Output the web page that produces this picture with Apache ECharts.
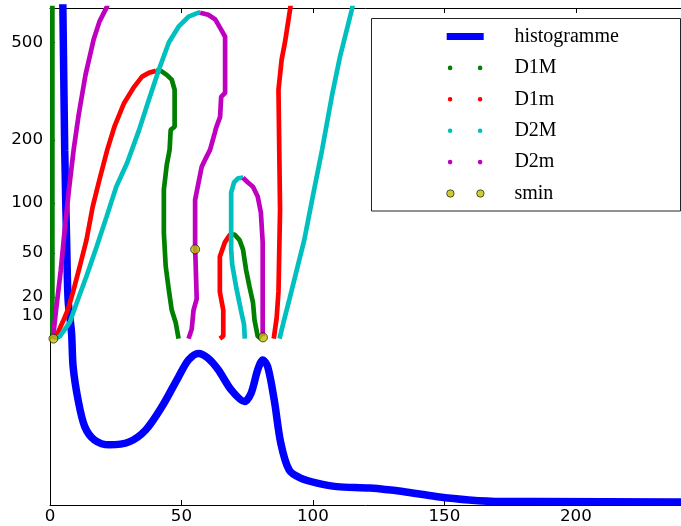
<!DOCTYPE html>
<html><head><meta charset="utf-8">
<script src="https://cdn.jsdelivr.net/npm/echarts@6/dist/echarts.min.js"></script>
<style>html,body{margin:0;padding:0;background:#fff}#c{width:681px;height:526px}</style>
</head><body><div id="c"></div>
<script>
// ---- data (x, value) ----
const xTicks = [0, 50, 100, 150, 200];
const yTicks = [10, 20, 50, 100, 200, 500];
const histogram = [[4.4,1150],[4.9,1000],[5.6,714],[6.4,513],[6.9,412],[8.2,346],[8.8,278],[10.7,211],[13.2,158],[16.9,131],[22.6,121],[30.1,127],[36.4,151],[42.6,198],[48.9,258],[52.7,292],[56.5,305],[60.2,295],[64.0,272],[69.0,231],[74.0,208],[76.5,225],[79.0,272],[80.9,292],[82.8,278],[85.3,211],[87.8,124],[91.0,70],[95.3,54],[101.6,44],[109.1,37],[121.7,34],[134.2,27],[146.8,17],[159.3,10],[171.9,7],[184.4,7],[237,6],[255,6]];
const D1M_1 = [[0.9,760],[0.9,3],[1.2,0]];
const D1M_2 = [[40.3,387],[42.2,387],[44.4,373],[46.3,357],[47.4,325],[47.4,228],[45.9,221],[45.5,181],[44.4,154],[43.3,117],[43.3,68],[44.0,40],[45.2,24],[46.3,13],[47.8,7],[48.9,0]];
const D1M_3 = [[69.3,66],[70.3,66],[72.1,61],[73.4,53],[74.6,37],[75.9,26],[77.2,17],[77.8,8],[79.0,1],[80.3,0]];
const D1m_1 = [[1.1,0],[3.0,2.5],[4.9,7.4],[6.8,13.2],[8.7,22.6],[11.3,39.5],[13.9,61.4],[16.2,95],[18.8,131],[21.8,181],[24.5,228],[28.2,287],[32.0,334],[35.0,367],[37.6,380],[40.3,387]];
const D1m_2 = [[64.6,0],[65.9,1],[65.9,13],[64.6,23],[64.6,47],[66.5,59],[68.4,66],[69.3,66]];
const D1m_3 = [[85.1,0],[86.2,9],[86.9,23],[87.5,92],[86.9,325],[88.1,428],[89.4,503],[91.3,667],[91.8,727]];
const D2M_1 = [[1.9,0],[3.8,1],[7.5,7],[10.2,17],[13.9,33],[17.7,55],[21.5,84],[25.2,121],[29.4,158],[33.9,221],[37.6,296],[41.4,391],[45.2,500],[48.9,575],[52.7,628],[56.5,650],[57.1,650]];
const D2M_2 = [[74.1,0],[73.8,6],[72.6,13],[70.8,26],[69.3,41],[68.9,53],[68.9,113],[70.0,127],[71.5,133],[73.0,134],[73.4,134]];
const D2M_3 = [[87.3,0],[88.8,7],[91.1,19],[94.1,39],[96.7,61],[99.7,104],[103.5,181],[107.3,310],[110.3,440],[114.8,667],[115.5,727]];
const D2m_1 = [[1.1,0],[2.3,13],[4.1,37],[5.6,71],[7.2,117],[9.0,181],[10.9,256],[13.5,373],[16.6,513],[18.8,601],[21.5,679],[22.6,727]];
const D2m_2 = [[57.1,650],[60.2,638],[62.9,612],[65.1,560],[66.6,526],[66.6,316],[65.1,304],[64.7,251],[63.2,226],[62.7,215],[60.9,181],[59.0,163],[57.7,151],[56.5,127],[55.2,104],[55.2,55],[55.8,19],[54.6,13],[53.9,4],[52.7,0]];
const D2m_3 = [[73.4,134],[75.3,127],[77.2,121],[79.0,108],[80.2,89],[80.9,59],[80.9,1]];
const smin = [[1.3,0],[55.2,53],[81.0,0.5]];

// ---- scale: y axis is ln(v+50) ----
const T = v => Math.log(v + 50);
const yBottom = -37, yTop = 677;

const C = {hist:'#0000ff', D1M:'#008000', D1m:'#ff0000', D2M:'#00bfbf', D2m:'#bf00bf', smin:'#bfbf00'};

function branch(name, color, data, z) {
  return {type:'line', name, data: data.map(p => [p[0], T(p[1])]), symbol:'none', showSymbol:false,
    lineStyle:{color, width:4.7}, itemStyle:{color}, z, animation:false, emphasis:{disabled:true}, silent:true};
}
function circ(cx, cy, r) {
  return `M${cx-r},${cy} A${r},${r} 0 1,0 ${cx+r},${cy} A${r},${r} 0 1,0 ${cx-r},${cy} Z `;
}
const box = 'M0,0 M63,8 ';
const iconRect = 'path://' + box + 'M0.3,0.6 L37.3,0.6 L37.3,7.4 L0.3,7.4 Z';
const iconDots = 'path://' + box + circ(3.7,4,2.3) + circ(33.7,4,2.3);
const iconBig = 'path://' + box + circ(4,4,3.7) + circ(34,4,3.7);

const series = [
  {type:'line', name:'histogramme', yAxisIndex:1, data: histogram, symbol:'none', showSymbol:false, smooth:0.3,
   lineStyle:{color:C.hist, width:7.5}, itemStyle:{color:C.hist}, z:2, animation:false, silent:true},
  branch('D1M', C.D1M, D1M_1, 3), branch('D1M', C.D1M, D1M_2, 3), branch('D1M', C.D1M, D1M_3, 3),
  branch('D1m', C.D1m, D1m_1, 3), branch('D1m', C.D1m, D1m_2, 3), branch('D1m', C.D1m, D1m_3, 3),
  branch('D2M', C.D2M, D2M_1, 3), branch('D2M', C.D2M, D2M_2, 3), branch('D2M', C.D2M, D2M_3, 3),
  branch('D2m', C.D2m, D2m_1, 3), branch('D2m', C.D2m, D2m_2, 3), branch('D2m', C.D2m, D2m_3, 3),
  {type:'scatter', name:'smin', data: smin.map(p => [p[0], T(p[1])]), symbol:'circle', symbolSize:9,
   itemStyle:{color:C.smin, borderColor:'#000', borderWidth:0.8}, z:4, animation:false, silent:true}
];

const axisFont = {fontFamily:'DejaVu Sans', fontSize:16.7, color:'#000'};
const chart = echarts.init(document.getElementById('c'), null, {renderer:'canvas'});
chart.setOption({
  animation:false,
  backgroundColor:'#fff',
  grid:{left:50, top:8, width:638.4, height:497, containLabel:false},
  xAxis:[
    {type:'value', min:0, max:240, interval:50, position:'bottom',
     axisLine:{onZero:false, lineStyle:{color:'#000', width:1}},
     axisTick:{inside:true, length:5, lineStyle:{color:'#000'}},
     axisLabel:Object.assign({margin:3, showMaxLabel:false}, axisFont),
     splitLine:{show:false}},
    {type:'value', min:0, max:240, interval:50, position:'top',
     axisLine:{onZero:false, lineStyle:{color:'#000', width:1}},
     axisTick:{inside:true, length:5, lineStyle:{color:'#000'}},
     axisLabel:{show:false}, splitLine:{show:false}}
  ],
  yAxis:[
    {type:'value', min:T(yBottom), max:T(yTop), position:'left',
     axisLine:{show:true, onZero:false, lineStyle:{color:'#000', width:1}},
     axisTick:{show:true, inside:true, length:5, customValues: yTicks.map(T), lineStyle:{color:'#000'}},
     axisLabel:Object.assign({margin:7, customValues: yTicks.map(T),
       formatter: v => String(Math.round(Math.exp(v) - 50))}, axisFont),
     splitLine:{show:false}},
    {type:'value', min:0, max:1000, show:false}
  ],
  legend:{
    orient:'vertical', left:446, top:25.5, padding:0, itemGap:9.4, itemWidth:63, itemHeight:8,
    selectedMode:false, z:20,
    textStyle:{fontFamily:'Liberation Serif', fontSize:20, color:'#000', lineHeight:22},
    data:[
      {name:'histogramme', icon:iconRect, itemStyle:{color:C.hist, borderWidth:0}},
      {name:'D1M', icon:iconDots, itemStyle:{color:C.D1M, borderWidth:0}},
      {name:'D1m', icon:iconDots, itemStyle:{color:C.D1m, borderWidth:0}},
      {name:'D2M', icon:iconDots, itemStyle:{color:C.D2M, borderWidth:0}},
      {name:'D2m', icon:iconDots, itemStyle:{color:C.D2m, borderWidth:0}},
      {name:'smin', icon:iconBig, itemStyle:{color:C.smin, borderColor:'#000', borderWidth:0.8}}
    ]
  },
  graphic:[{type:'rect', z:15, silent:true,
    shape:{x:371.5, y:18.5, width:309, height:192.5},
    style:{fill:'#fff', stroke:'#222', lineWidth:1}}],
  series
});
</script></body></html>
